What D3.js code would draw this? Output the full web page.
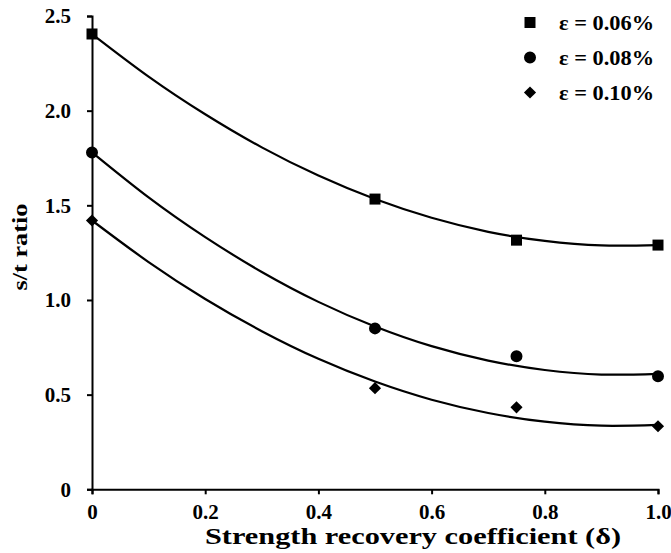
<!DOCTYPE html>
<html>
<head lang="en">
    <meta charset="UTF-8">
    <title> s/t ratio </title>
    <script type="text/javascript" src="https://cdn.jsdelivr.net/npm/d3@7"></script>

    <style>
        body { margin: 0; background: #ffffff; }
        svg text {
            font-family: "Liberation Serif", "Times New Roman", serif;
            font-weight: bold;
            fill: #000;
        }
    </style>
</head>

<body>
<div id="chart"></div>

<script>

    // measured points (strength recovery coefficient -> s/t ratio)
    var delta    = [0, 0.5, 0.75, 1.0];
    var ratio006 = [2.405, 1.533, 1.316, 1.290];
    var ratio008 = [1.779, 0.850, 0.703, 0.597];
    var ratio010 = [1.420, 0.534, 0.433, 0.333];

    // trend curves, every 0.1
    var fitDelta = [0, 0.1, 0.2, 0.3, 0.4, 0.5, 0.6, 0.7, 0.8, 0.9, 1.0];
    var fit006   = [2.405, 2.180, 1.981, 1.806, 1.657, 1.533, 1.434, 1.360, 1.312, 1.288, 1.290];
    var fit008   = [1.780, 1.542, 1.332, 1.148, 0.990, 0.860, 0.756, 0.680, 0.630, 0.606, 0.610];
    var fit010   = [1.420, 1.200, 1.005, 0.835, 0.689, 0.569, 0.473, 0.403, 0.357, 0.336, 0.340];

    var legendLabels = ["ε = 0.06%", "ε = 0.08%", "ε = 0.10%"];

    var xTicks      = [0, 0.2, 0.4, 0.6, 0.8, 1.0];
    var xTickLabels = ["0", "0.2", "0.4", "0.6", "0.8", "1.0"];
    var yTicks      = [0, 0.5, 1.0, 1.5, 2.0, 2.5];
    var yTickLabels = ["0", "0.5", "1.0", "1.5", "2.0", "2.5"];

    var xTitle = "Strength recovery coefficient (δ)";
    var yTitle = "s/t ratio";

    var width  = 671;
    var height = 553;
    var tickFont = "21px";

    var svg = d3.select("#chart").append("svg")
            .attr("width", width)
            .attr("height", height);

    var x = d3.scaleLinear().domain([0, 1]).range([92, 658]);
    var y = d3.scaleLinear().domain([0, 2.5]).range([489.3, 16]);

    // axes
    var xAxis = svg.append("g")
            .attr("transform", "translate(0," + y(0) + ")")
            .call(d3.axisBottom(x)
                .tickValues(xTicks)
                .tickFormat(function (d, i) { return xTickLabels[i]; })
                .tickSize(5)
                .tickPadding(10));

    var yAxis = svg.append("g")
            .attr("transform", "translate(" + x(0) + ",0)")
            .call(d3.axisLeft(y)
                .tickValues(yTicks)
                .tickFormat(function (d, i) { return yTickLabels[i]; })
                .tickSize(5)
                .tickPadding(16));

    [xAxis, yAxis].forEach(function (g) {
        g.selectAll("path, line").style("stroke", "#000").style("stroke-width", 2);
        g.selectAll("text")
                .style("font-size", tickFont)
                .style("font-family", "'Liberation Serif', 'Times New Roman', serif")
                .style("font-weight", "bold");
    });

    // curves
    var line = d3.line()
            .x(function (d) { return x(d[0]); })
            .y(function (d) { return y(d[1]); })
            .curve(d3.curveNatural);

    [fit006, fit008, fit010].forEach(function (f) {
        svg.append("path")
                .datum(fitDelta.map(function (v, i) { return [v, f[i]]; }))
                .attr("d", line)
                .style("fill", "none")
                .style("stroke", "#000")
                .style("stroke-width", 2.2);
    });

    // markers
    var symbols = [
        { type: d3.symbolSquare, size: 121, rot: 0 },
        { type: d3.symbolCircle, size: 113, rot: 0 },
        { type: d3.symbolSquare, size: 74,  rot: 45 }
    ];

    [ratio006, ratio008, ratio010].forEach(function (s, k) {
        svg.append("g").selectAll("path")
                .data(delta.map(function (v, i) { return [v, s[i]]; }))
                .enter().append("path")
                .attr("d", d3.symbol().type(symbols[k].type).size(symbols[k].size))
                .attr("transform", function (d) {
                    return "translate(" + x(d[0]) + "," + y(d[1]) + ") rotate(" + symbols[k].rot + ")";
                })
                .style("fill", "#000");
    });

    // legend
    var legend = svg.append("g").attr("transform", "translate(530,22.5)");
    legendLabels.forEach(function (lab, k) {
        var row = legend.append("g").attr("transform", "translate(0," + (k * 35) + ")");
        row.append("path")
                .attr("d", d3.symbol().type(symbols[k].type).size(symbols[k].size))
                .attr("transform", "rotate(" + symbols[k].rot + ")")
                .style("fill", "#000");
        row.append("text")
                .attr("x", 29)
                .attr("dy", "0.36em")
                .attr("textLength", 95)
                .attr("lengthAdjust", "spacingAndGlyphs")
                .style("font-size", "22px")
                .text(lab);
    });

    // axis titles (the original lettering is wider than Liberation Serif)
    svg.append("text")
            .attr("x", 413)
            .attr("y", 544)
            .attr("text-anchor", "middle")
            .attr("textLength", 416)
            .attr("lengthAdjust", "spacingAndGlyphs")
            .style("font-size", "24px")
            .text(xTitle);

    svg.append("text")
            .attr("transform", "translate(27,247) rotate(-90)")
            .attr("text-anchor", "middle")
            .attr("textLength", 87)
            .attr("lengthAdjust", "spacingAndGlyphs")
            .style("font-size", "22px")
            .text(yTitle);

</script>

</body>
</html>
